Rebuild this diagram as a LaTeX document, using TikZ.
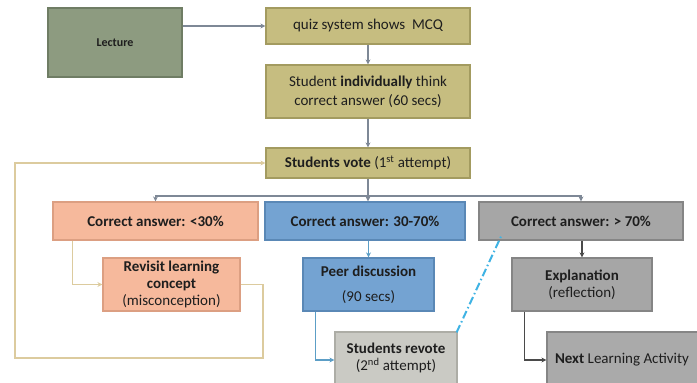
\documentclass[tikz,border=0pt]{standalone}
\usepackage{fontspec}
\setmainfont{Carlito}
\usetikzlibrary{arrows.meta}
\definecolor{lecfill}{HTML}{8D9B80}
\definecolor{lecdraw}{HTML}{6F7D64}
\definecolor{olfill}{HTML}{C6BD80}
\definecolor{oldraw}{HTML}{A39B60}
\definecolor{safill}{HTML}{F6B99C}
\definecolor{sadraw}{HTML}{DC9F82}
\definecolor{blfill}{HTML}{74A3D2}
\definecolor{bldraw}{HTML}{5A88B6}
\definecolor{grfill}{HTML}{A6A6A6}
\definecolor{grdraw}{HTML}{858585}
\definecolor{ltfill}{HTML}{CACAC4}
\definecolor{ltdraw}{HTML}{ADADA6}
\definecolor{flow}{HTML}{7E8896}
\definecolor{loopc}{HTML}{DCCB9E}
\definecolor{peerc}{HTML}{5C9EC6}
\definecolor{darkc}{HTML}{4A4A4A}
\definecolor{cyanc}{HTML}{3FB3E4}
\definecolor{txt}{HTML}{1E1E1E}
\begin{document}
\begin{tikzpicture}[x=1pt,y=-1pt,
  box/.style={draw, line width=1.2pt, inner sep=2pt, align=center, text=txt,
    font=\fontsize{15}{17}\selectfont},
  lecbox/.style={box, fill=lecfill, draw=lecdraw},
  olbox/.style={box, fill=olfill, draw=oldraw},
  sabox/.style={box, fill=safill, draw=sadraw},
  blbox/.style={box, fill=blfill, draw=bldraw},
  grbox/.style={box, fill=grfill, draw=grdraw},
  ltbox/.style={box, fill=ltfill, draw=ltdraw},
  tip/.style={-{Stealth[length=5pt,width=5pt]}},
  flowline/.style={tip, draw=flow, line width=1.3pt},
  loopline/.style={tip, draw=loopc, line width=1.3pt},
  peerline/.style={tip, draw=peerc, line width=1.3pt},
  darkline/.style={tip, draw=darkc, line width=1.3pt},
  cyanline/.style={draw=cyanc, line width=2pt, dash pattern=on 8pt off 3pt on 1.5pt off 3pt}
]
\useasboundingbox[fill=white] (0,0) rectangle (697,383);
\begin{scope}
\clip (0,0) rectangle (697,383);

\node[lecbox, minimum width=134pt, minimum height=69pt, font=\fontsize{12}{14}\selectfont\bfseries] (lecture) at (115,42.5) {Lecture};
\node[olbox, minimum width=204pt, minimum height=36pt] (quiz) at (368,26) {quiz system shows\ \ MCQ};
\node[olbox, minimum width=204pt, minimum height=53pt, font=\fontsize{15}{19}\selectfont] (think) at (368,91.5) {Student \textbf{individually} think\\correct answer (60 secs)};
\node[olbox, minimum width=204pt, minimum height=30pt] (vote) at (368,163) {\textbf{Students vote} (1\textsuperscript{st} attempt)};

\node[sabox, minimum width=205pt, minimum height=38pt] (low) at (155.5,221) {\textbf{Correct answer: <30\%}};
\node[blbox, minimum width=200pt, minimum height=38pt] (mid) at (365,221) {\textbf{Correct answer: 30-70\%}};
\node[grbox, minimum width=204pt, minimum height=38pt] (high) at (581,221) {\textbf{Correct answer: > 70\%}};

\node[sabox, minimum width=137pt, minimum height=53pt] (revisit) at (171.5,284.5) {\textbf{Revisit learning}\\\textbf{concept}\\(misconception)};
\node[blbox, minimum width=131pt, minimum height=53pt] (peer) at (368.5,284.5) {\textbf{Peer discussion}\\[8pt](90 secs)};
\node[grbox, minimum width=140pt, minimum height=53pt] (expl) at (582,284.5) {\textbf{Explanation}\\(reflection)};

\node[ltbox, minimum width=122pt, minimum height=56pt, text depth=6pt] (revote) at (396,360) {\textbf{Students revote}\\(2\textsuperscript{nd} attempt)};
\node[grbox, minimum width=156pt, minimum height=56pt, fill=grfill!95!white] (next) at (625,360) {\hspace*{-6pt}\textbf{Next} Learning Activity};

\coordinate (split) at (368,196);
\coordinate (loopA) at (263,358);
\coordinate (loopB) at (15,358);

\draw[flowline] (lecture.east |- quiz.west) -- (quiz.west);
\draw[flowline] (quiz.south) -- (think.north);
\draw[flowline] (think.south) -- (vote.north);
\draw[flowline] (vote.south) -- (vote.south |- mid.north);
\draw[flowline] (split) -| (low.north);
\draw[flowline] (split) -| (high.north);

\draw[loopline] ([xshift=20pt]low.south west) |- (revisit.west);
\draw[loopline] (revisit.east) -| (loopA) -- (loopB) |- (vote.west);

\draw[peerline] (peer.north |- mid.south) -- (peer.north);
\draw[peerline] ([xshift=13pt]peer.south west) |- (revote.west);

\draw[darkline] (expl.north |- high.south) -- (expl.north);
\draw[darkline] ([xshift=13pt]expl.south west) |- (next.west);

\draw[cyanline] ([xshift=-1pt,yshift=-1pt]revote.north east) -- ([xshift=23pt,yshift=5pt]high.south west);
\end{scope}
\end{tikzpicture}
\end{document}
